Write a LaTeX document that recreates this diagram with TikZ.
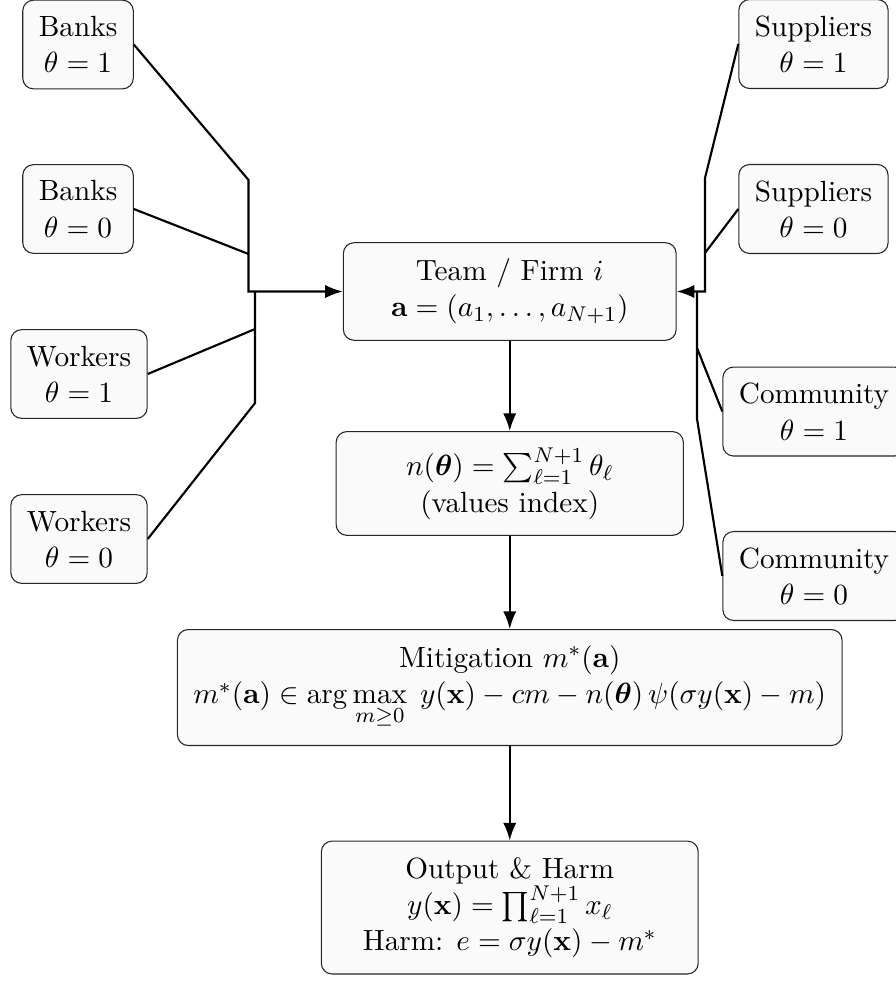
\documentclass[tikz,border=0pt,11pt]{standalone}
\usepackage{amsmath}
\usepackage{amssymb}
\usetikzlibrary{arrows.meta}

\begin{document}
\begin{tikzpicture}
\tikzset{box/.style={draw=black!85, thin, fill=black!2, rounded corners=4pt, inner sep=6pt, align=center}}
\tikzset{link/.style={thick}}
\tikzset{flow/.style={thick, -{Latex}}}
\useasboundingbox (0,0) rectangle (11.794,-12.913);
\node[box, minimum width=4.38cm] (team) at (6.71,-3.837) {Team / Firm $i$\\$\mathbf{a}=(a_1,\dots,a_{N+1})$};
\node[box, minimum width=4.57cm] (values) at (6.71,-6.364) {$n(\boldsymbol{\theta})=\sum_{\ell=1}^{N+1}\theta_\ell$\\(values index)};
\node[box] (mitig) at (6.71,-9.05) {Mitigation $m^*(\mathbf{a})$\\$m^*(\mathbf{a})\in\arg\max\limits_{m\geq0}\; y(\mathbf{x})-cm-n(\boldsymbol{\theta})\,\psi(\sigma y(\mathbf{x})-m)$};
\node[box, minimum width=4.96cm] (output) at (6.71,-11.946) {Output \& Harm\\$y(\mathbf{x})=\prod_{\ell=1}^{N+1}x_\ell$\\Harm: $e=\sigma y(\mathbf{x})-m^*$};
\node[box] (banks1) at (1.027,-0.586) {Banks\\$\theta=1$};
\node[box] (banks0) at (1.027,-2.751) {Banks\\$\theta=0$};
\node[box] (workers1) at (1.04,-4.923) {Workers\\$\theta=1$};
\node[box] (workers0) at (1.04,-7.095) {Workers\\$\theta=0$};
\node[box] (supp1) at (10.708,-0.579) {Suppliers\\$\theta=1$};
\node[box] (supp0) at (10.708,-2.751) {Suppliers\\$\theta=0$};
\node[box] (comm1) at (10.715,-5.417) {Community\\$\theta=1$};
\node[box] (comm0) at (10.715,-7.582) {Community\\$\theta=0$};
\coordinate (lb1) at (3.271,-2.369);
\coordinate (lb2) at (3.271,-3.343);
\coordinate (lw1) at (3.357,-5.305);
\coordinate (lw2) at (3.357,-4.331);
\coordinate (lw0) at (lw1 |- team.west);
\coordinate (rs1) at (9.28,-2.343);
\coordinate (rs2) at (9.28,-3.33);
\coordinate (rc1) at (9.175,-5.515);
\coordinate (rc2) at (9.175,-4.581);
\coordinate (rc0) at (rc1 |- team.east);
\draw[flow] (banks1.east) -- (lb1) |- (team.west);
\draw[link] (banks0.east) -- (lb2);
\draw[link] (workers0.east) -- (lw1) -- (lw0);
\draw[link] (workers1.east) -- (lw2);
\draw[flow] (supp1.west) -- (rs1) |- (team.east);
\draw[link] (supp0.west) -- (rs2);
\draw[link] (comm0.west) -- (rc1) -- (rc0);
\draw[link] (comm1.west) -- (rc2);
\draw[flow] (team) -- (values);
\draw[flow] (values) -- (mitig);
\draw[flow] (mitig) -- (output);
\end{tikzpicture}
\end{document}
